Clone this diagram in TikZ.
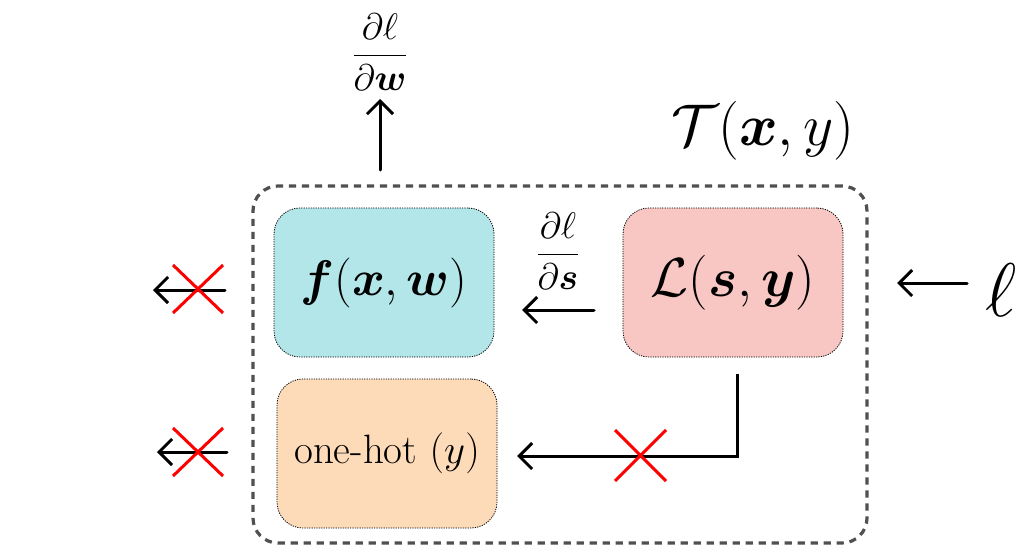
\RequirePackage{fix-cm}
\documentclass[tikz,border=0pt]{standalone}
\usepackage{amsmath,amssymb,bm}
\usetikzlibrary{arrows.meta,calc}
\definecolor{fcol}{HTML}{B3E6E9}
\definecolor{lcol}{HTML}{F8C6C3}
\definecolor{ocol}{HTML}{FDDAB8}
\definecolor{dgray}{HTML}{505050}
\begin{document}
\begin{tikzpicture}[x=0.5pt,y=-0.5pt,
  blk/.style={draw=black, line width=0.4pt, dash pattern=on 0.6pt off 0.6pt,
    rounded corners=13pt, minimum width=110pt, minimum height=74.5pt, inner sep=0pt},
  outerbox/.style={draw=dgray, line width=1.6pt, dash pattern=on 3.6pt off 2.9pt,
    rounded corners=12.5pt, minimum width=307pt, minimum height=178.5pt, inner sep=0pt},
  arr/.style={line width=1.5pt, line cap=round, -{Straight Barb[length=6.5pt,width=13pt]}},
  cross/.style={red, line width=1.5pt},
  lbl/.style={inner sep=0pt}
]
\useasboundingbox (0,0) rectangle (1023,546);
% blocks
\node[outerbox] (T) at (560,364.5) {};
\node[blk, fill=fcol] (f) at (384,282.5) {\fontsize{25}{30}\selectfont$\bm{f}(\bm{x},\bm{w})$};
\node[blk, fill=lcol] (L) at (733,282.5) {\fontsize{27.5}{33}\selectfont$\mathcal{L}(\bm{s},\bm{y})$};
\node[blk, fill=ocol] (oh) at (387,453.5) {\fontsize{20.5}{24}\selectfont one-hot $(y)$};
% labels
\node[lbl] (Tl) at (763,131) {\fontsize{29.4}{35}\selectfont$\mathcal{T}(\bm{x},y)$};
\node[lbl] (dw) at (380,52) {\fontsize{18.5}{22}\selectfont$\dfrac{\partial\ell}{\partial\bm{w}}$};
\node[lbl] (ds) at (558,251) {\fontsize{18.5}{22}\selectfont$\dfrac{\partial\ell}{\partial\bm{s}}$};
\node[lbl] (ell) at (1001,290) {\fontsize{38}{44}\selectfont$\ell$};
% free ends
\coordinate (wS) at (380,170); \coordinate (wE) at (380,99);
\coordinate (sS) at (594,310); \coordinate (sE) at (522,310);
\coordinate (eS) at (967,283); \coordinate (eE) at (897,283);
\coordinate (aS) at (225,290); \coordinate (aE) at (153,290);
\coordinate (bS) at (227,452); \coordinate (bE) at (157,452);
\coordinate (cS) at (737,374); \coordinate (cE) at (517,456);
% connectors
\draw[arr] (wS) -- (wE);
\draw[arr] (sS) -- (sE);
\draw[arr] (eS) -- (eE);
\draw[arr] (aS) -- (aE);
\draw[arr] (bS) -- (bE);
\draw[arr, line cap=butt] (cS) |- (cE);
% crosses
\draw[cross] (173,265) -- (223,313) (173,313) -- (223,265);
\draw[cross] (173,428) -- (223,476) (173,476) -- (223,428);
\draw[cross] (615,430) -- (666,481) (615,481) -- (666,430);
\end{tikzpicture}
\end{document}
